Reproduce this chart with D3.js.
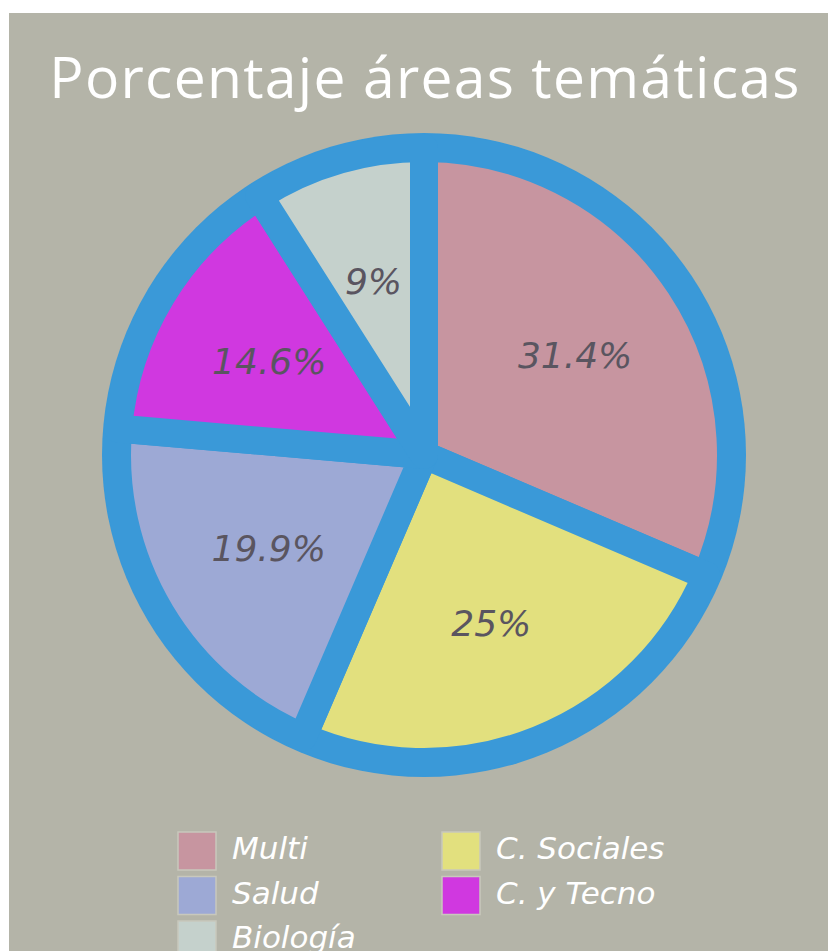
<!DOCTYPE html>
<html>
<head>
<meta charset="utf-8">
<script src="https://cdn.jsdelivr.net/npm/d3@7"></script>
<style>
  body { margin: 0; background: #fff; }
</style>
</head>
<body>
<div id="chart"></div>
<script>
// Data
var categories = ['Multi', 'C. Sociales', 'Salud', 'C. y Tecno', 'Biología'];
var values = [31.4, 25, 19.9, 14.6, 9];
var labels = ['31.4%', '25%', '19.9%', '14.6%', '9%'];
var colors = ['#c795a0', '#e2e07e', '#9da9d5', '#d038e0', '#c5d1cc'];

var svgWidth = 828;
var svgHeight = 951;

var svg = d3.select('#chart')
    .append('svg')
    .attr('width', svgWidth)
    .attr('height', svgHeight);

// background panel
svg.append('rect')
    .attr('x', 9)
    .attr('y', 13)
    .attr('width', svgWidth - 9)
    .attr('height', svgHeight - 13)
    .attr('fill', '#b4b4a8');

// title
svg.append('text')
    .attr('x', 425)
    .attr('y', 98)
    .attr('text-anchor', 'middle')
    .style('font-family', 'Open Sans')
    .style('font-size', '57px')
    .style('letter-spacing', '1.3px')
    .style('fill', '#fff')
    .text('Porcentaje áreas temáticas');

var cx = 424, cy = 455;
var blue = '#3a99d8';

var pieGroup = svg.append('g')
    .attr('transform', `translate(${cx},${cy})`);

// outer blue ring
pieGroup.append('circle')
    .attr('r', 322)
    .attr('fill', blue);

var pie = d3.pie().sort(null).value(d => d);
var arcs = pie(values);

var arc = d3.arc().innerRadius(0).outerRadius(307);
var labelArc = d3.arc().innerRadius(181).outerRadius(181);

pieGroup.selectAll('path.slice')
    .data(arcs)
    .enter()
    .append('path')
    .classed('slice', true)
    .attr('d', arc)
    .attr('fill', (d, i) => colors[i])
    .attr('stroke', blue)
    .attr('stroke-width', 28)
    .attr('stroke-linejoin', 'round');

pieGroup.selectAll('text.lbl')
    .data(arcs)
    .enter()
    .append('text')
    .classed('lbl', true)
    .attr('transform', d => `translate(${labelArc.centroid(d)})`)
    .attr('text-anchor', 'middle')
    .attr('dy', '0.35em')
    .style('font-family', 'DejaVu Sans')
    .style('font-style', 'italic')
    .style('font-size', '36px')
    .style('fill', '#5a5560')
    .text((d, i) => labels[i]);

// legend
var legend = svg.append('g')
    .attr('transform', 'translate(178,832)');

var items = legend.selectAll('g')
    .data(categories)
    .enter()
    .append('g')
    .attr('transform', (d, i) => `translate(${(i % 2) * 264},${Math.floor(i / 2) * 44.5})`);

items.append('rect')
    .attr('width', 38)
    .attr('height', 38)
    .attr('fill', (d, i) => colors[i])
    .attr('stroke', '#c8c8bc')
    .attr('stroke-width', 1.5);

items.append('text')
    .attr('x', 54)
    .attr('y', 27)
    .style('font-family', 'DejaVu Sans')
    .style('font-style', 'italic')
    .style('font-size', '31px')
    .style('fill', '#fff')
    .text(d => d);
</script>
</body>
</html>
